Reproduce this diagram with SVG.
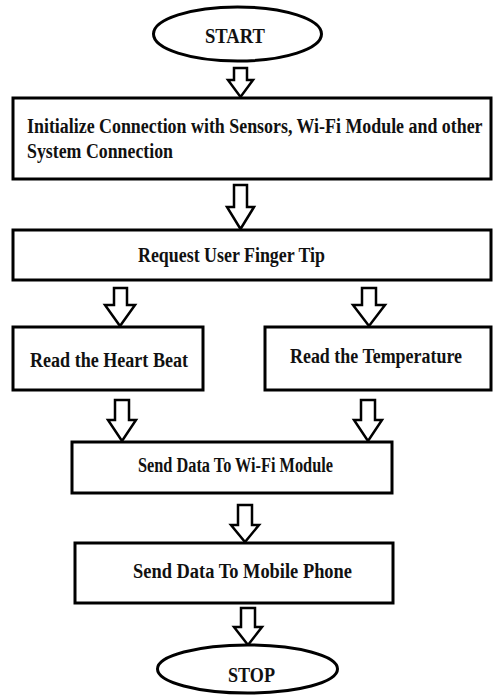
<svg xmlns="http://www.w3.org/2000/svg" width="493" height="695" viewBox="0 0 493 695">
<style>
.n{fill:#fff;stroke:#000;stroke-width:3}
.a{fill:#fff;stroke:#000;stroke-width:2.5;stroke-linejoin:miter}
.t{font-family:"Times New Roman","Liberation Serif","DejaVu Serif",serif;font-weight:bold;font-size:20px;fill:#111}
</style>
<rect width="493" height="695" fill="#fff"/>
<g id="connectors">
<path class="a" d="M234,68 V80 H228 L240.5,97 L253,80 H247 V68 Z"/>
<path class="a" d="M234,185 V207 H227 L240.5,229 L254,207 H247 V185 Z"/>
<path class="a" d="M114,288 V305 H105 L120,326 L135,305 H127 V288 Z"/>
<path class="a" d="M362,288 V305 H353 L369,326 L385,305 H376 V288 Z"/>
<path class="a" d="M115,400 V420 H108 L122,441 L136,420 H129 V400 Z"/>
<path class="a" d="M361,400 V420 H354 L368,441 L382,420 H375 V400 Z"/>
<path class="a" d="M238,505 V525 H231 L245,542 L259,525 H252 V505 Z"/>
<path class="a" d="M241,608 V627 H234 L248,645 L262,627 H255 V608 Z"/>
</g>
<g id="start">
<ellipse class="n" cx="237.5" cy="34" rx="84" ry="27"/>
<text class="t" x="205" y="43" textLength="60" lengthAdjust="spacingAndGlyphs">START</text>
</g>
<g id="init">
<rect class="n" x="13" y="98" width="478" height="81"/>
<text class="t" transform="translate(27,133) scale(0.895,1)" x="0" y="0">Initialize Connection with Sensors, Wi-Fi Module and other</text>
<text class="t" x="27" y="158" textLength="146" lengthAdjust="spacingAndGlyphs">System Connection</text>
</g>
<g id="request">
<rect class="n" x="13" y="230" width="478" height="50"/>
<text class="t" x="138" y="262" textLength="187" lengthAdjust="spacingAndGlyphs">Request User Finger Tip</text>
</g>
<g id="heart">
<rect class="n" x="13" y="327" width="190" height="63"/>
<text class="t" x="30" y="367" textLength="158" lengthAdjust="spacingAndGlyphs">Read the Heart Beat</text>
</g>
<g id="temp">
<rect class="n" x="265" y="327" width="226" height="63"/>
<text class="t" x="290" y="363" textLength="172" lengthAdjust="spacingAndGlyphs">Read the Temperature</text>
</g>
<g id="wifi">
<rect class="n" x="72" y="442" width="320" height="51"/>
<text class="t" x="138" y="472" textLength="195" lengthAdjust="spacingAndGlyphs">Send Data To Wi-Fi Module</text>
</g>
<g id="mobile">
<rect class="n" x="75" y="543" width="318" height="60"/>
<text class="t" x="133" y="578" textLength="219" lengthAdjust="spacingAndGlyphs">Send Data To Mobile Phone</text>
</g>
<g id="stop">
<ellipse class="n" cx="247.5" cy="669" rx="90" ry="24"/>
<text class="t" x="228" y="682" textLength="47" lengthAdjust="spacingAndGlyphs">STOP</text>
</g>
</svg>
